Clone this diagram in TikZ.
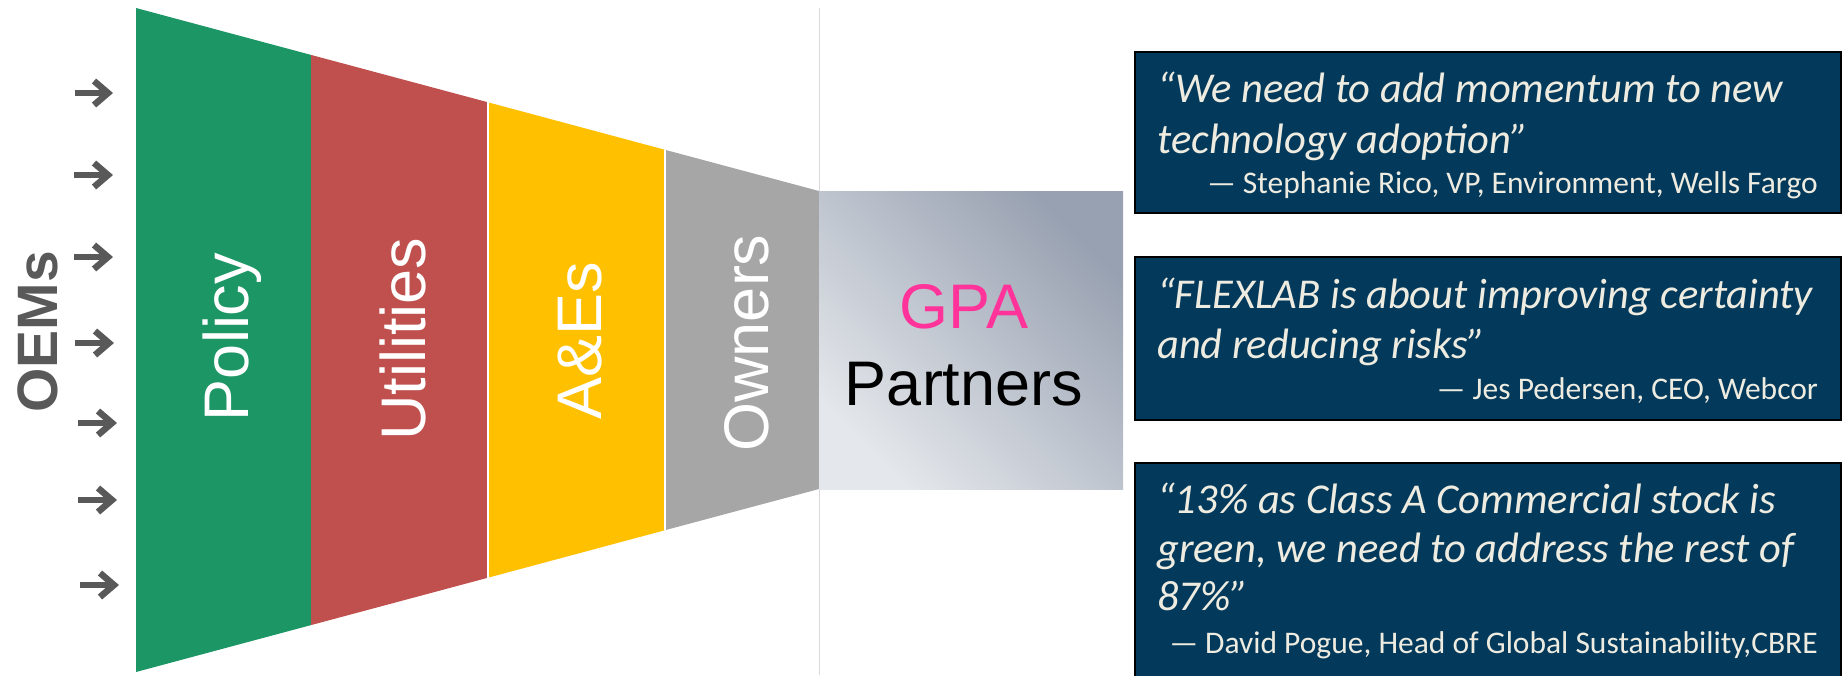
\documentclass[tikz,border=0pt]{standalone}
\usepackage{fontspec}
\setmainfont{Liberation Sans}
\newfontfamily\quotefont{Carlito}
\usetikzlibrary{arrows.meta}
\definecolor{policygreen}{HTML}{1C9665}
\definecolor{utilred}{HTML}{C0504D}
\definecolor{aeyellow}{HTML}{FFC000}
\definecolor{ownergray}{HTML}{A6A6A6}
\definecolor{arrowgray}{HTML}{595959}
\definecolor{divgray}{HTML}{D9D9D9}
\definecolor{gpapink}{HTML}{FF3399}
\definecolor{gpatop}{HTML}{98A1B1}
\definecolor{gpabottom}{HTML}{E4E7EB}
\definecolor{quotenavy}{HTML}{03395B}
\definecolor{quotecream}{HTML}{EEECE1}
\begin{document}
\begin{tikzpicture}[x=1pt,y=-1pt,
  feed/.style={draw=arrowgray,line width=6.5pt,-{Straight Barb[length=14pt,width=24pt]}},
  stage/.style={rotate=90,anchor=base,inner sep=0pt,text=white,font=\fontsize{63}{63}\selectfont},
  bigword/.style={anchor=base,inner sep=0pt,font=\fontsize{63}{63}\selectfont},
  quotebox/.style={draw=black,line width=1.5pt,fill=quotenavy},
  quoteline/.style={anchor=base west,inner sep=0pt,text=quotecream,font=\quotefont\itshape\fontsize{42.5}{42.5}\selectfont},
  byline/.style={anchor=base east,inner sep=0pt,text=quotecream,font=\quotefont\fontsize{31.5}{31.5}\selectfont}]
\useasboundingbox (0,0) rectangle (1843,675);
\clip (0,0) rectangle (1843,675);

% divider
\draw[color=divgray,line width=1pt] (819,8) -- (819,675);

% funnel
\fill[policygreen] (136,8) -- (311,54.9) -- (311,625.1) -- (136,672) -- cycle;
\fill[utilred] (311,54.9) -- (488,102.3) -- (488,577.7) -- (311,625.1) -- cycle;
\fill[aeyellow] (488,102.3) -- (665,149.8) -- (665,530.2) -- (488,577.7) -- cycle;
\fill[ownergray] (665,149.8) -- (819,191) -- (819,489) -- (665,530.2) -- cycle;
\draw[white,line width=2.5pt] (488,102.3) -- (488,577.7);
\draw[white,line width=2.5pt] (665,149.8) -- (665,530.2);

\node[stage] (policy) at (248,337) {Policy};
\node[stage] (utilities) at (425,339) {Utilities};
\node[stage] (aes) at (601,341) {A\&Es};
\node[stage] (owners) at (768,343) {Owners};

% OEMs feeding in
\node[rotate=90,anchor=base,inner sep=0pt,text=arrowgray,font=\bfseries\fontsize{57}{57}\selectfont] (oems) at (57,332) {OEMs};
\coordinate (t1) at (75,93);   \coordinate (h1) at (113,93);
\coordinate (t2) at (74,175);  \coordinate (h2) at (113,175);
\coordinate (t3) at (74,257);  \coordinate (h3) at (113,257);
\coordinate (t4) at (75,343);  \coordinate (h4) at (114,343);
\coordinate (t5) at (78,423);  \coordinate (h5) at (117,423);
\coordinate (t6) at (78,500);  \coordinate (h6) at (117,500);
\coordinate (t7) at (80,585);  \coordinate (h7) at (119,585);
\draw[feed] (t1) -- (h1);
\draw[feed] (t2) -- (h2);
\draw[feed] (t3) -- (h3);
\draw[feed] (t4) -- (h4);
\draw[feed] (t5) -- (h5);
\draw[feed] (t6) -- (h6);
\draw[feed] (t7) -- (h7);

% GPA partners
\shade[top color=gpatop,bottom color=gpabottom,shading angle=-45] (819,191) rectangle (1123,489);
\node[bigword,text=gpapink] (gpa) at (964,328) {GPA};
\node[bigword,text=black] (partners) at (964,405) {Partners};

% quotes
\filldraw[quotebox] (1135,52) rectangle (1841,213);
\node[quoteline] (q1a) at (1157,102) {“We need to add momentum to new};
\node[quoteline] (q1b) at (1157,153) {technology adoption”};
\node[byline] (q1c) at (1818,193) {— Stephanie Rico, VP, Environment, Wells Fargo};

\filldraw[quotebox] (1135,257) rectangle (1841,420);
\node[quoteline] (q2a) at (1157,308) {“FLEXLAB is about improving certainty};
\node[quoteline] (q2b) at (1157,358) {and reducing risks”};
\node[byline] (q2c) at (1818,399) {— Jes Pedersen, CEO, Webcor};

\filldraw[quotebox] (1135,463) rectangle (1841,700);
\node[quoteline] (q3a) at (1157,513) {“13\% as Class A Commercial stock is};
\node[quoteline] (q3b) at (1157,562) {green, we need to address the rest of};
\node[quoteline] (q3c) at (1157,610) {87\%”};
\node[byline] (q3d) at (1818,653) {— David Pogue, Head of Global Sustainability,CBRE};

\end{tikzpicture}
\end{document}
